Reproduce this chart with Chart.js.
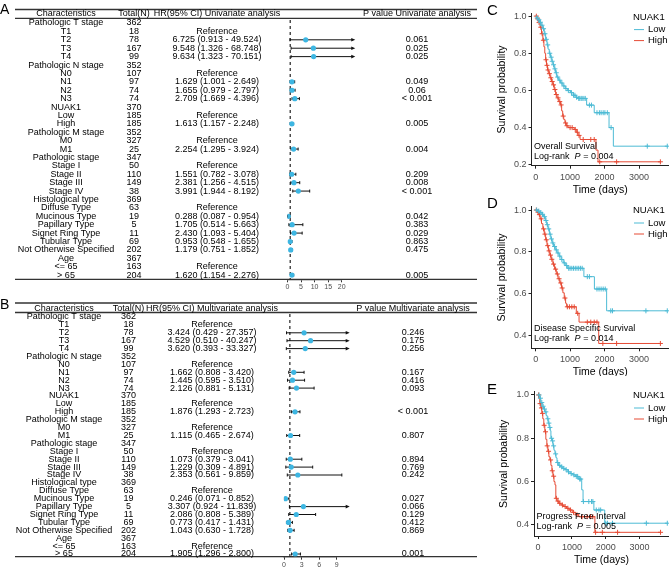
<!DOCTYPE html>
<html>
<head>
<meta charset="utf-8">
<script src="https://cdn.jsdelivr.net/npm/chart.js@4.4.1/dist/chart.umd.min.js"></script>
<style>
html, body { margin: 0; padding: 0; background: #fff; overflow: hidden; }
#wrap { position: relative; width: 669px; height: 569px; }
canvas { position: absolute; }
</style>
</head>
<body>
<div id="wrap">
  <canvas id="forestA" style="left:0;top:0" width="480" height="296"></canvas>
  <canvas id="forestB" style="left:0;top:296px" width="480" height="273"></canvas>
  <canvas id="kmC" style="left:480px;top:0" width="189" height="196"></canvas>
  <canvas id="kmD" style="left:480px;top:185px" width="189" height="191"></canvas>
  <canvas id="kmE" style="left:480px;top:370px" width="189" height="199"></canvas>
</div>
<script>
const FONT = '"Liberation Sans", Arial, Helvetica, sans-serif';
Chart.defaults.font.family = FONT;
Chart.defaults.color = '#000';

const COL_LOW = '#4DBBD5';
const COL_HIGH = '#E64B35';
const POINT_COL = '#3DB6E2';

// Forest plot tables (rows are shared by A and B)
const characteristics = ['Pathologic T stage', 'T1', 'T2', 'T3', 'T4', 'Pathologic N stage', 'N0', 'N1', 'N2', 'N3',
    'NUAK1', 'Low', 'High', 'Pathologic M stage', 'M0', 'M1', 'Pathologic stage', 'Stage I', 'Stage II', 'Stage III', 'Stage IV',
    'Histological type', 'Diffuse Type', 'Mucinous Type', 'Papillary Type', 'Signet Ring Type', 'Tubular Type',
    'Not Otherwise Specified', 'Age', '<= 65', '> 65'];
const totals = [362, 18, 78, 167, 99, 352, 107, 97, 74, 74, 370, 185, 185, 352, 327, 25, 347, 50, 110, 149, 38,
    369, 63, 19, 5, 11, 69, 202, 367, 163, 204];

const uniHR = [null, 'Reference', 6.725, 9.548, 9.634, null, 'Reference', 1.629, 1.655, 2.709, null, 'Reference', 1.613,
    null, 'Reference', 2.254, null, 'Reference', 1.551, 2.381, 3.991, null, 'Reference', 0.288, 1.705, 2.430, 0.953, 1.179,
    null, 'Reference', 1.620];
const uniLow = [null, null, 0.913, 1.326, 1.323, null, null, 1.001, 0.979, 1.669, null, null, 1.157, null, null, 1.295,
    null, null, 0.782, 1.256, 1.944, null, null, 0.087, 0.514, 1.093, 0.548, 0.751, null, null, 1.154];
const uniHigh = [null, null, 49.524, 68.748, 70.151, null, null, 2.649, 2.797, 4.396, null, null, 2.248, null, null, 3.924,
    null, null, 3.078, 4.515, 8.192, null, null, 0.954, 5.663, 5.404, 1.655, 1.852, null, null, 2.276];
const uniP = ['', '', '0.061', '0.025', '0.025', '', '', '0.049', '0.06', '< 0.001', '', '', '0.005', '', '', '0.004',
    '', '', '0.209', '0.008', '< 0.001', '', '', '0.042', '0.383', '0.029', '0.863', '0.475', '', '', '0.005'];

const multiHR = [null, 'Reference', 3.424, 4.529, 3.620, null, 'Reference', 1.662, 1.445, 2.126, null, 'Reference', 1.876,
    null, 'Reference', 1.115, null, 'Reference', 1.073, 1.229, 2.353, null, 'Reference', 0.246, 3.307, 2.086, 0.773, 1.043,
    null, 'Reference', 1.905];
const multiLow = [null, null, 0.429, 0.510, 0.393, null, null, 0.808, 0.595, 0.881, null, null, 1.293, null, null, 0.465,
    null, null, 0.379, 0.309, 0.561, null, null, 0.071, 0.924, 0.808, 0.417, 0.630, null, null, 1.296];
const multiHigh = [null, null, 27.357, 40.247, 33.327, null, null, 3.420, 3.510, 5.131, null, null, 2.723, null, null, 2.674,
    null, null, 3.041, 4.891, 9.859, null, null, 0.852, 11.839, 5.389, 1.431, 1.728, null, null, 2.800];
const multiP = ['', '', '0.246', '0.175', '0.256', '', '', '0.167', '0.416', '0.093', '', '', '< 0.001', '', '', '0.807',
    '', '', '0.894', '0.769', '0.242', '', '', '0.027', '0.066', '0.129', '0.412', '0.869', '', '', '0.001'];

const forestTicksA = [0, 5, 10, 15, 20];
const forestTicksB = [0, 3, 6, 9];

// Kaplan-Meier curves (time in days, survival after each drop) and censor times
const kmTimeTicks = [0, 1000, 2000, 3000];
const groupNames = ['Low', 'High'];

const osLowTime = [0, 30, 70, 110, 160, 210, 250, 290, 330, 360, 395, 430, 470, 505, 540, 575, 610, 660, 720, 790, 860, 930, 1010, 1090, 1170, 1230, 1480, 1700, 2130, 2255, 3820];
const osLowSurv = [1, 0.99, 0.98, 0.967, 0.951, 0.932, 0.905, 0.875, 0.845, 0.822, 0.80, 0.779, 0.757, 0.738, 0.716, 0.695, 0.672, 0.655, 0.64, 0.624, 0.61, 0.599, 0.588, 0.574, 0.563, 0.557, 0.521, 0.48, 0.40, 0.30, 0.30];
const osLowCensor = [45, 95, 140, 185, 230, 270, 310, 350, 410, 450, 480, 520, 560, 600, 640, 700, 760, 820, 880, 950, 1040, 1100, 1140, 1190, 1250, 1280, 1320, 1350, 1400, 1440, 1560, 1620, 1780, 1850, 1900, 1960, 2010, 2080, 2190, 3240, 3820];
const osHighTime = [0, 40, 80, 130, 170, 210, 240, 265, 290, 315, 345, 380, 420, 460, 500, 540, 580, 620, 670, 720, 755, 785, 815, 850, 890, 940, 1120, 1180, 1230, 1290, 1750, 1810, 3620];
const osHighSurv = [1, 0.985, 0.965, 0.94, 0.905, 0.87, 0.835, 0.80, 0.765, 0.735, 0.71, 0.69, 0.668, 0.648, 0.63, 0.605, 0.578, 0.56, 0.54, 0.522, 0.49, 0.462, 0.444, 0.425, 0.41, 0.40, 0.39, 0.375, 0.358, 0.336, 0.279, 0.216, 0.216];
const osHighCensor = [20, 60, 100, 150, 190, 225, 300, 330, 360, 400, 440, 480, 520, 560, 600, 650, 700, 740, 800, 870, 910, 1000, 1060, 1150, 1210, 1260, 1380, 1600, 1700, 1860, 2350, 3620];

const dssLowTime = [0, 60, 120, 180, 230, 280, 320, 360, 400, 440, 480, 520, 570, 620, 680, 740, 800, 860, 920, 1400, 1705, 2060, 3820];
const dssLowSurv = [1, 0.995, 0.988, 0.98, 0.968, 0.95, 0.93, 0.91, 0.885, 0.862, 0.843, 0.826, 0.81, 0.795, 0.78, 0.764, 0.748, 0.735, 0.722, 0.682, 0.623, 0.519, 0.519];
const dssLowCensor = [30, 90, 150, 200, 260, 300, 340, 380, 420, 460, 500, 550, 600, 650, 700, 760, 830, 900, 960, 1000, 1050, 1100, 1150, 1200, 1250, 1300, 1350, 1500, 1560, 1780, 1840, 1900, 1960, 2020, 2180, 2230, 3200, 3820];
const dssHighTime = [0, 40, 80, 130, 170, 210, 250, 290, 330, 370, 410, 450, 500, 550, 600, 650, 700, 750, 790, 830, 870, 900, 1180, 1260, 1830, 3620];
const dssHighSurv = [1, 0.99, 0.978, 0.958, 0.935, 0.91, 0.885, 0.858, 0.83, 0.805, 0.785, 0.765, 0.742, 0.718, 0.695, 0.672, 0.652, 0.628, 0.605, 0.58, 0.555, 0.538, 0.507, 0.465, 0.363, 0.363];
const dssHighCensor = [20, 70, 110, 160, 230, 270, 310, 350, 390, 430, 470, 520, 580, 630, 680, 730, 770, 850, 920, 980, 1050, 1120, 1220, 1500, 1600, 1700, 1780, 1950, 2350, 3620];

const pfiLowTime = [0, 40, 80, 120, 160, 200, 240, 270, 300, 330, 360, 380, 410, 440, 470, 500, 530, 560, 600, 660, 730, 800, 880, 950, 1030, 1110, 1190, 1290, 1330, 1650, 1970, 3820];
const pfiLowSurv = [1, 0.985, 0.965, 0.948, 0.935, 0.922, 0.905, 0.89, 0.87, 0.85, 0.835, 0.80, 0.788, 0.765, 0.745, 0.728, 0.71, 0.688, 0.675, 0.668, 0.661, 0.655, 0.645, 0.637, 0.631, 0.624, 0.612, 0.562, 0.508, 0.469, 0.408, 0.408];
const pfiLowCensor = [30, 70, 110, 150, 190, 230, 290, 320, 350, 400, 430, 460, 520, 580, 640, 700, 760, 830, 900, 980, 1060, 1130, 1170, 1230, 1260, 1340, 1500, 1580, 1620, 1720, 1800, 1850, 2000, 2050, 2200, 3200, 3820];
const pfiHighTime = [0, 20, 50, 80, 110, 140, 170, 200, 230, 260, 290, 320, 350, 380, 410, 440, 470, 500, 525, 560, 610, 680, 760, 840, 920, 1010, 1100, 1200, 1680, 3620];
const pfiHighSurv = [1, 0.985, 0.96, 0.94, 0.915, 0.89, 0.86, 0.83, 0.795, 0.765, 0.74, 0.715, 0.70, 0.675, 0.65, 0.625, 0.6, 0.585, 0.523, 0.51, 0.5, 0.492, 0.485, 0.477, 0.469, 0.458, 0.447, 0.438, 0.366, 0.366];
const pfiHighCensor = [15, 60, 100, 130, 180, 220, 270, 310, 370, 420, 460, 540, 590, 640, 720, 800, 880, 960, 1050, 1150, 1300, 1450, 1550, 1620, 1700, 1900, 2350, 3620];

// ---------- helpers

function hrLabel(hr, lo, hi) {
    if (typeof hr === 'number') return hr.toFixed(3) + ' (' + lo.toFixed(3) + ' - ' + hi.toFixed(3) + ')';
    return hr || '';
}

// survival value of a step curve at time t
function survAt(times, surv, t) {
    let s = surv[0];
    for (let i = 0; i < times.length; i++) {
        if (times[i] <= t) s = surv[i]; else break;
    }
    return s;
}

// ---------- forest plots

function forestPlugin(o) {
    return {
        id: 'forest' + o.letter,
        beforeDatasetsDraw(chart) {
            const ctx = chart.ctx, x = chart.scales.x, y = chart.scales.y, area = chart.chartArea;
            ctx.save();
            ctx.fillStyle = '#000';
            ctx.font = '14px ' + FONT;
            ctx.textAlign = 'left';
            ctx.textBaseline = 'alphabetic';
            ctx.fillText(o.letter, 0, o.letterY);

            // table rules
            ctx.strokeStyle = '#333';
            ctx.lineWidth = 1.3;
            [o.topLineY, o.underY, area.bottom].forEach(ly => {
                ctx.beginPath(); ctx.moveTo(15, ly); ctx.lineTo(477, ly); ctx.stroke();
            });

            // header + body text
            ctx.font = '9px ' + FONT;
            ctx.textAlign = 'center';
            ctx.textBaseline = 'middle';
            o.headers.forEach((h, k) => ctx.fillText(h, o.cols[k], o.headerY));
            characteristics.forEach((c, i) => {
                const py = y.getPixelForValue(i);
                ctx.fillText(c, o.cols[0], py);
                ctx.fillText(String(totals[i]), o.cols[1], py);
                ctx.fillText(hrLabel(o.hr[i], o.lo[i], o.hi[i]), o.cols[2], py);
                ctx.fillText(o.p[i], o.cols[3], py);
            });

            // HR = 1 reference line
            const x1 = x.getPixelForValue(1);
            ctx.setLineDash([3, 3]);
            ctx.lineWidth = 1.2;
            ctx.strokeStyle = '#222';
            ctx.beginPath(); ctx.moveTo(x1, o.dashTop); ctx.lineTo(x1, area.bottom); ctx.stroke();
            ctx.setLineDash([]);

            // confidence intervals
            ctx.lineWidth = 1;
            ctx.strokeStyle = '#111';
            ctx.fillStyle = '#111';
            o.hr.forEach((v, i) => {
                if (typeof v !== 'number') return;
                const py = y.getPixelForValue(i);
                const xl = x.getPixelForValue(o.lo[i]);
                const clipped = o.hi[i] > o.clipMax;
                const xr = x.getPixelForValue(Math.min(o.hi[i], o.clipMax));
                ctx.beginPath(); ctx.moveTo(xl, py); ctx.lineTo(clipped ? xr - 3 : xr, py); ctx.stroke();
                ctx.beginPath(); ctx.moveTo(xl, py - 1.5); ctx.lineTo(xl, py + 1.5); ctx.stroke();
                if (clipped) {
                    ctx.beginPath(); ctx.moveTo(xr, py); ctx.lineTo(xr - 4, py - 1.8); ctx.lineTo(xr - 4, py + 1.8);
                    ctx.closePath(); ctx.fill();
                } else {
                    ctx.beginPath(); ctx.moveTo(xr, py - 1.5); ctx.lineTo(xr, py + 1.5); ctx.stroke();
                }
            });
            ctx.restore();
        }
    };
}

function forestChart(id, o) {
    const pts = [];
    o.hr.forEach((v, i) => { if (typeof v === 'number') pts.push({ x: v, y: i }); });
    return new Chart(document.getElementById(id), {
        type: 'scatter',
        data: {
            datasets: [{
                data: pts,
                backgroundColor: POINT_COL,
                borderColor: POINT_COL,
                borderWidth: 0,
                pointRadius: 2.6,
                pointHoverRadius: 2.6
            }]
        },
        options: {
            responsive: false,
            animation: false,
            devicePixelRatio: 1,
            events: [],
            layout: { autoPadding: false, padding: { left: o.left, right: o.right, top: o.top, bottom: 0 } },
            plugins: { legend: { display: false }, tooltip: { enabled: false } },
            scales: {
                x: {
                    type: 'linear',
                    min: o.ticks[0],
                    max: o.ticks[o.ticks.length - 1],
                    afterBuildTicks: s => { s.ticks = o.ticks.map(v => ({ value: v })); },
                    afterFit: s => { s.height = o.axisH; },
                    grid: { display: true, drawOnChartArea: false, tickLength: 3, color: '#333' },
                    border: { display: true, color: '#333', width: 1.3 },
                    ticks: { font: { size: 7 }, color: '#4d4d4d', padding: 1, maxRotation: 0, autoSkip: false }
                },
                y: { type: 'linear', display: false, reverse: true, min: -1, max: o.yMax }
            }
        },
        plugins: [forestPlugin(o)]
    });
}

forestChart('forestA', {
    letter: 'A', letterY: 13.5,
    hr: uniHR, lo: uniLow, hi: uniHigh, p: uniP,
    headers: ['Characteristics', 'Total(N)', 'HR(95% CI) Univariate analysis', 'P value Univariate analysis'],
    cols: [66, 134, 217, 417],
    ticks: forestTicksA, clipMax: 25,
    left: 287.5, right: 138.3, top: 14.6, yMax: 30.5, axisH: 16.7,
    headerY: 14, topLineY: 9.5, underY: 18.3, dashTop: 20
});

forestChart('forestB', {
    letter: 'B', letterY: 13,
    hr: multiHR, lo: multiLow, hi: multiHigh, p: multiP,
    headers: ['Characteristics', 'Total(N)', 'HR(95% CI) Multivariate analysis', 'P value Multivariate analysis'],
    cols: [64, 128.5, 212, 413],
    ticks: forestTicksB, clipMax: 11.2,
    left: 284, right: 143.2, top: 13.1, yMax: 30.34, axisH: 12.3,
    headerY: 13, topLineY: 7, underY: 16.5, dashTop: 18
});

// ---------- Kaplan-Meier plots

function kmPlugin(o) {
    return {
        id: 'km' + o.letter,
        afterDraw(chart) {
            const ctx = chart.ctx, a = chart.chartArea;
            ctx.save();
            ctx.fillStyle = '#000';
            ctx.textAlign = 'left';
            ctx.textBaseline = 'alphabetic';
            ctx.font = '15px ' + FONT;
            ctx.fillText(o.letter, 7, o.letterY);

            // axis titles
            ctx.font = '10.5px ' + FONT;
            ctx.textAlign = 'center';
            ctx.textBaseline = 'middle';
            ctx.fillText('Time (days)', (a.left + a.right) / 2, a.bottom + 24);
            ctx.save();
            ctx.translate(a.left - 29.5, (a.top + a.bottom) / 2);
            ctx.rotate(-Math.PI / 2);
            ctx.fillText('Survival probability', 0, 0);
            ctx.restore();

            // legend
            ctx.textAlign = 'left';
            ctx.font = '9.5px ' + FONT;
            ctx.fillText('NUAK1', 153, a.top + 4);
            o.groups.forEach((g, k) => {
                const ly = a.top + 16.3 + k * 11;
                ctx.strokeStyle = g.color;
                ctx.lineWidth = 1;
                ctx.beginPath(); ctx.moveTo(154, ly); ctx.lineTo(164, ly); ctx.stroke();
                ctx.fillStyle = '#000';
                ctx.fillText(g.name, 168, ly);
            });

            // annotation
            ctx.font = '9px ' + FONT;
            let tx = a.left + 2.6;
            ctx.fillText(o.endpoint, tx, a.bottom - 19.5);
            const ty = a.bottom - 9.5;
            ctx.fillText('Log-rank  ', tx, ty);
            tx += ctx.measureText('Log-rank  ').width;
            ctx.font = 'italic 9px ' + FONT;
            ctx.fillText('P', tx, ty);
            tx += ctx.measureText('P').width;
            ctx.font = '9px ' + FONT;
            ctx.fillText(' = ' + o.pval, tx, ty);
            ctx.restore();
        }
    };
}

function kmChart(id, o) {
    const ds = [];
    o.groups.forEach(g => {
        ds.push({
            type: 'line',
            data: g.time.map((t, i) => ({ x: t, y: g.surv[i] })),
            stepped: true,
            borderColor: g.color,
            borderWidth: 1,
            pointRadius: 0,
            fill: false
        });
        ds.push({
            type: 'scatter',
            data: g.censor.map(t => ({ x: t, y: survAt(g.time, g.surv, t) })),
            pointStyle: 'cross',
            pointRadius: 2.5,
            borderColor: g.color,
            borderWidth: 1,
            showLine: false
        });
    });
    const axisCommon = {
        grid: { display: true, drawOnChartArea: false, tickLength: 3, color: '#222' },
        border: { display: true, color: '#222', width: 1 }
    };
    return new Chart(document.getElementById(id), {
        type: 'scatter',
        data: { datasets: ds },
        options: {
            responsive: false,
            animation: false,
            devicePixelRatio: 1,
            events: [],
            layout: { autoPadding: false, padding: { left: 0, right: 0, top: o.top, bottom: 0 } },
            plugins: { legend: { display: false }, tooltip: { enabled: false } },
            scales: {
                x: Object.assign({
                    type: 'linear', min: -120, max: 3870,
                    afterBuildTicks: s => { s.ticks = kmTimeTicks.map(v => ({ value: v })); },
                    afterFit: s => { s.height = o.axisH; },
                    ticks: { font: { size: 9 }, color: '#4d4d4d', padding: 3, maxRotation: 0, autoSkip: false, callback: v => String(v) }
                }, axisCommon),
                y: Object.assign({
                    type: 'linear', min: o.yMin, max: o.yMax,
                    afterBuildTicks: s => { s.ticks = o.yTicks.map(v => ({ value: v })); },
                    afterFit: s => { s.width = o.left; },
                    ticks: { font: { size: 9 }, color: '#4d4d4d', padding: 2, autoSkip: false, callback: v => v.toFixed(1) }
                }, axisCommon)
            }
        },
        plugins: [kmPlugin(o)]
    });
}

kmChart('kmC', {
    letter: 'C', letterY: 15, endpoint: 'Overall Survival', pval: '0.004',
    top: 13.3, left: 51.5, axisH: 30.3, yMin: 0.195, yMax: 1.015, yTicks: [0.2, 0.4, 0.6, 0.8, 1.0],
    groups: [
        { name: groupNames[0], color: COL_LOW, time: osLowTime, surv: osLowSurv, censor: osLowCensor },
        { name: groupNames[1], color: COL_HIGH, time: osHighTime, surv: osHighSurv, censor: osHighCensor }
    ]
});

kmChart('kmD', {
    letter: 'D', letterY: 23.3, endpoint: 'Disease Specific Survival', pval: '0.014',
    top: 21.7, left: 51.5, axisH: 27.7, yMin: 0.34, yMax: 1.016, yTicks: [0.4, 0.6, 0.8, 1.0],
    groups: [
        { name: groupNames[0], color: COL_LOW, time: dssLowTime, surv: dssLowSurv, censor: dssLowCensor },
        { name: groupNames[1], color: COL_HIGH, time: dssHighTime, surv: dssHighSurv, censor: dssHighCensor }
    ]
});

kmChart('kmE', {
    letter: 'E', letterY: 24, endpoint: 'Progress Free Interval', pval: '0.005',
    top: 21.7, left: 54, axisH: 33, yMin: 0.349, yMax: 1.015, yTicks: [0.4, 0.6, 0.8, 1.0],
    groups: [
        { name: groupNames[0], color: COL_LOW, time: pfiLowTime, surv: pfiLowSurv, censor: pfiLowCensor },
        { name: groupNames[1], color: COL_HIGH, time: pfiHighTime, surv: pfiHighSurv, censor: pfiHighCensor }
    ]
});
</script>
</body>
</html>
